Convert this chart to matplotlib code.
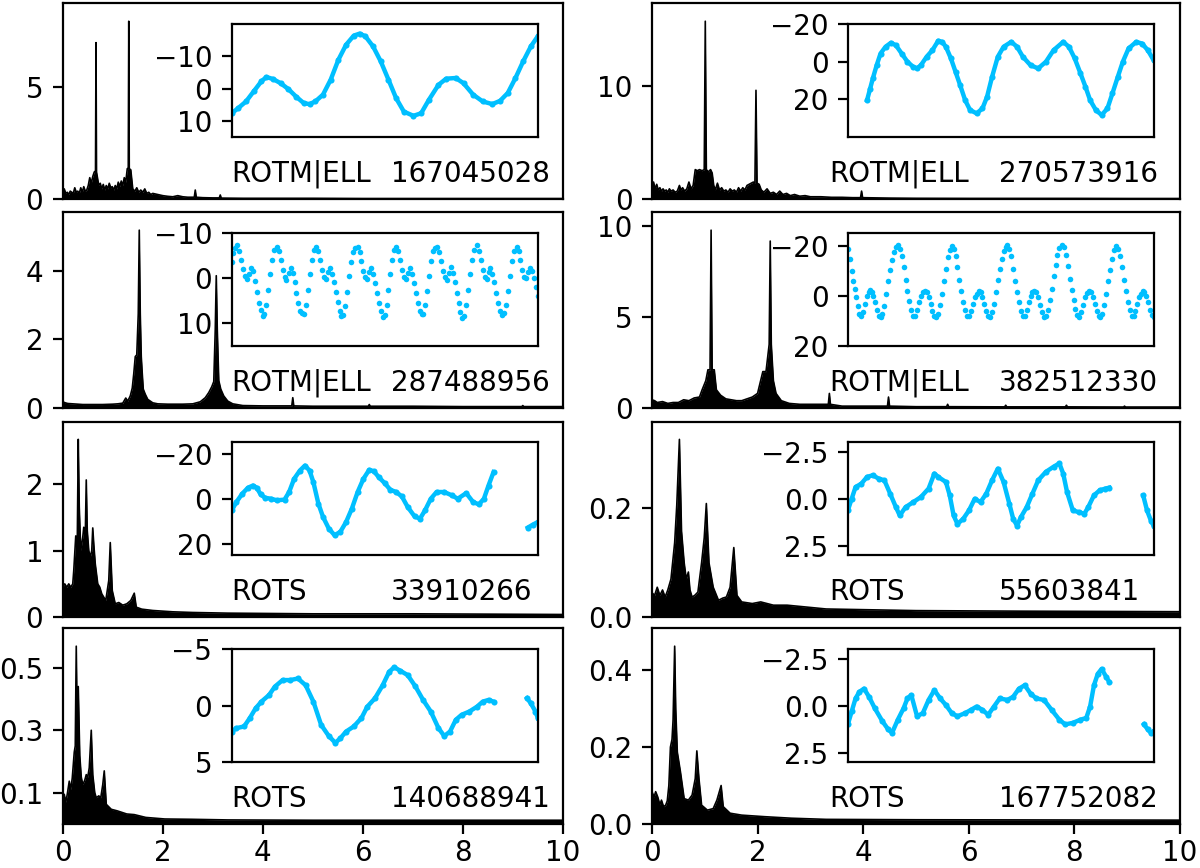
import matplotlib
matplotlib.use("Agg")
import matplotlib.pyplot as plt
import numpy as np

# panel labels: variability class and TIC number
classes = ["ROTM|ELL", "ROTM|ELL", "ROTM|ELL", "ROTM|ELL", "ROTS", "ROTS", "ROTS", "ROTS"]
tic_ids = ["167045028", "270573916", "287488956", "382512330",
           "33910266", "55603841", "140688941", "167752082"]

# periodograms: (frequency [1/d], power)
pg1 = [(0.00, 0.30), (0.03, 0.45), (0.06, 0.25), (0.09, 0.30), (0.12, 0.20), (0.15, 0.35), (0.18, 0.30),
       (0.21, 0.25), (0.24, 0.50), (0.27, 0.30), (0.30, 0.35), (0.33, 0.25), (0.36, 0.50), (0.39, 0.30),
       (0.42, 0.55), (0.45, 0.35), (0.48, 0.40), (0.51, 0.60), (0.54, 0.95), (0.57, 0.70), (0.60, 1.00),
       (0.63, 1.20), (0.655, 1.25), (0.665, 6.95), (0.675, 1.20), (0.69, 1.00), (0.72, 0.60), (0.75, 0.70),
       (0.78, 0.45), (0.81, 0.65), (0.84, 0.40), (0.87, 0.60), (0.90, 0.45), (0.93, 0.70), (0.96, 0.50),
       (0.99, 0.55), (1.02, 0.40), (1.05, 0.60), (1.08, 0.45), (1.11, 0.75), (1.14, 0.55), (1.17, 0.80),
       (1.20, 0.60), (1.23, 0.95), (1.26, 0.75), (1.29, 1.35), (1.31, 1.35), (1.32, 7.90), (1.33, 1.35),
       (1.36, 1.30), (1.40, 0.45), (1.44, 0.35), (1.48, 0.50), (1.52, 0.30), (1.56, 0.40), (1.60, 0.30),
       (1.64, 0.45), (1.68, 0.25), (1.72, 0.30), (1.76, 0.20), (1.80, 0.25), (1.90, 0.20), (2.00, 0.15),
       (2.10, 0.12), (2.20, 0.10), (2.30, 0.15), (2.40, 0.10), (2.50, 0.08), (2.63, 0.08), (2.65, 0.40),
       (2.67, 0.08), (2.80, 0.06), (3.00, 0.05), (3.13, 0.05), (3.15, 0.18), (3.17, 0.04), (3.60, 0.03),
       (4.0, 0.03), (5.0, 0.03), (6.0, 0.02), (7.0, 0.02), (8.0, 0.02), (9.0, 0.02), (10.0, 0.02)]
pg2 = [(0.00, 1.2), (0.03, 1.5), (0.06, 0.9), (0.09, 1.3), (0.12, 0.8), (0.15, 1.0), (0.18, 0.7), (0.21, 0.9),
       (0.24, 0.7), (0.27, 0.8), (0.30, 0.6), (0.33, 0.9), (0.36, 0.7), (0.40, 0.8), (0.44, 0.6), (0.48, 0.7),
       (0.52, 1.2), (0.55, 0.8), (0.58, 1.0), (0.62, 0.7), (0.66, 0.9), (0.70, 1.5), (0.74, 0.9), (0.78, 1.2),
       (0.82, 2.6), (0.86, 2.5), (0.90, 2.6), (0.95, 2.5), (0.99, 2.6), (1.01, 15.7), (1.03, 2.6), (1.07, 2.4),
       (1.11, 2.6), (1.14, 2.3), (1.17, 1.2), (1.20, 0.8), (1.24, 1.4), (1.28, 0.8), (1.32, 1.0), (1.36, 0.7),
       (1.40, 0.8), (1.44, 0.6), (1.48, 0.9), (1.52, 0.7), (1.56, 0.8), (1.60, 0.6), (1.64, 1.0), (1.68, 0.7),
       (1.72, 1.0), (1.76, 0.8), (1.80, 1.2), (1.84, 1.3), (1.88, 1.4), (1.92, 1.5), (1.95, 1.4), (1.97, 9.6),
       (1.99, 1.4), (2.03, 1.3), (2.07, 0.8), (2.12, 0.6), (2.18, 0.9), (2.24, 0.5), (2.30, 0.6), (2.36, 0.4),
       (2.42, 0.7), (2.48, 0.4), (2.55, 0.5), (2.62, 0.3), (2.70, 0.4), (2.80, 0.25), (2.90, 0.3), (3.00, 0.2),
       (3.20, 0.2), (3.40, 0.15), (3.60, 0.15), (3.80, 0.12), (3.95, 0.12), (3.97, 0.7), (3.99, 0.12),
       (4.5, 0.08), (5.0, 0.06), (6.0, 0.05), (7.0, 0.05), (8.0, 0.05), (9.0, 0.04), (10.0, 0.04)]
pg3 = [(0.00, 0.18), (0.05, 0.15), (0.10, 0.13), (0.20, 0.12), (0.30, 0.11), (0.40, 0.10), (0.60, 0.10),
       (0.80, 0.10), (1.00, 0.11), (1.10, 0.12), (1.20, 0.14), (1.26, 0.29), (1.30, 0.20), (1.35, 0.35),
       (1.39, 0.58), (1.42, 1.00), (1.45, 1.50), (1.48, 1.55), (1.51, 2.75), (1.53, 5.19), (1.55, 2.75),
       (1.57, 1.50), (1.59, 1.00), (1.61, 0.55), (1.65, 0.40), (1.70, 0.25), (1.80, 0.15), (1.90, 0.12),
       (2.10, 0.11), (2.40, 0.11), (2.60, 0.12), (2.75, 0.18), (2.85, 0.30), (2.92, 0.45), (2.98, 0.62),
       (3.02, 0.77), (3.05, 2.30), (3.07, 3.86), (3.09, 2.30), (3.12, 0.80), (3.16, 0.55), (3.22, 0.35),
       (3.30, 0.20), (3.40, 0.12), (3.60, 0.07), (4.00, 0.06), (4.58, 0.06), (4.60, 0.30), (4.62, 0.06),
       (5.00, 0.05), (6.11, 0.05), (6.13, 0.10), (6.15, 0.05), (7.00, 0.05), (8.00, 0.04), (9.18, 0.04),
       (9.20, 0.07), (9.22, 0.04), (10.0, 0.04)]
pg4 = [(0.00, 0.45), (0.05, 0.40), (0.10, 0.30), (0.20, 0.35), (0.30, 0.25), (0.40, 0.30), (0.50, 0.30),
       (0.60, 0.45), (0.70, 0.40), (0.80, 0.55), (0.90, 0.60), (0.95, 1.00), (1.02, 1.50), (1.06, 2.10),
       (1.10, 2.10), (1.12, 9.78), (1.14, 2.10), (1.18, 2.10), (1.22, 1.00), (1.30, 0.70), (1.40, 0.50),
       (1.50, 0.45), (1.60, 0.40), (1.70, 0.40), (1.80, 0.50), (1.90, 0.60), (2.00, 0.80), (2.10, 2.00),
       (2.16, 2.00), (2.22, 3.50), (2.24, 9.18), (2.26, 3.50), (2.30, 1.50), (2.35, 0.80), (2.45, 0.40),
       (2.60, 0.25), (2.80, 0.20), (3.00, 0.20), (3.34, 0.20), (3.36, 0.80), (3.38, 0.20), (3.60, 0.10),
       (4.00, 0.10), (4.46, 0.10), (4.48, 0.60), (4.50, 0.10), (5.00, 0.07), (5.58, 0.07), (5.60, 0.20),
       (5.62, 0.07), (6.68, 0.06), (6.70, 0.15), (6.72, 0.06), (7.83, 0.06), (7.85, 0.15), (7.87, 0.06),
       (8.93, 0.05), (8.95, 0.10), (8.97, 0.05), (10.0, 0.05)]
pg5 = [(0.00, 0.45), (0.04, 0.50), (0.08, 0.45), (0.12, 0.50), (0.16, 0.45), (0.20, 0.50), (0.22, 0.70),
       (0.26, 1.22), (0.29, 1.10), (0.31, 2.67), (0.33, 1.65), (0.36, 1.00), (0.40, 1.20), (0.42, 1.35),
       (0.45, 1.20), (0.47, 2.06), (0.49, 1.30), (0.52, 1.00), (0.55, 0.90), (0.58, 1.00), (0.60, 1.34),
       (0.62, 1.10), (0.65, 0.80), (0.70, 0.50), (0.74, 0.45), (0.78, 0.35), (0.82, 0.30), (0.86, 0.25),
       (0.92, 0.55), (0.95, 1.12), (0.99, 0.40), (1.05, 0.20), (1.12, 0.22), (1.20, 0.18), (1.28, 0.20),
       (1.36, 0.25), (1.43, 0.36), (1.47, 0.15), (1.58, 0.12), (1.80, 0.10), (2.20, 0.08), (2.60, 0.07),
       (3.30, 0.06), (5.00, 0.05), (7.00, 0.05), (10.0, 0.04)]
pg6 = [(0.00, 0.045), (0.05, 0.040), (0.10, 0.055), (0.15, 0.040), (0.20, 0.050), (0.25, 0.037),
       (0.30, 0.050), (0.36, 0.070), (0.43, 0.137), (0.47, 0.206), (0.52, 0.327), (0.56, 0.158),
       (0.61, 0.100), (0.65, 0.070), (0.69, 0.083), (0.72, 0.050), (0.76, 0.037), (0.81, 0.040),
       (0.87, 0.046), (0.94, 0.100), (0.99, 0.146), (1.03, 0.209), (1.08, 0.100), (1.16, 0.055),
       (1.26, 0.031), (1.34, 0.035), (1.41, 0.037), (1.48, 0.055), (1.55, 0.128), (1.61, 0.040),
       (1.70, 0.028), (1.90, 0.025), (2.06, 0.028), (2.30, 0.022), (2.56, 0.022), (3.30, 0.015),
       (5.00, 0.012), (7.00, 0.011), (10.0, 0.010)]
pg7 = [(0.00, 0.08), (0.03, 0.095), (0.06, 0.07), (0.09, 0.095), (0.13, 0.137), (0.16, 0.11), (0.19, 0.147),
       (0.23, 0.23), (0.25, 0.25), (0.27, 0.569), (0.29, 0.305), (0.31, 0.44), (0.34, 0.22), (0.37, 0.15),
       (0.40, 0.126), (0.44, 0.14), (0.47, 0.158), (0.50, 0.15), (0.53, 0.18), (0.57, 0.30), (0.60, 0.158),
       (0.64, 0.10), (0.67, 0.084), (0.72, 0.09), (0.76, 0.084), (0.80, 0.126), (0.83, 0.17), (0.87, 0.063),
       (0.97, 0.047), (1.09, 0.042), (1.28, 0.032), (1.43, 0.030), (1.66, 0.021), (2.04, 0.016),
       (2.58, 0.015), (3.30, 0.013), (5.00, 0.012), (10.0, 0.012)]
pg8 = [(0.00, 0.084), (0.04, 0.070), (0.07, 0.084), (0.11, 0.070), (0.15, 0.050), (0.18, 0.062),
       (0.22, 0.045), (0.26, 0.049), (0.29, 0.060), (0.32, 0.100), (0.35, 0.200), (0.38, 0.220),
       (0.40, 0.270), (0.43, 0.462), (0.45, 0.300), (0.48, 0.187), (0.54, 0.135), (0.61, 0.066),
       (0.69, 0.062), (0.76, 0.075), (0.82, 0.118), (0.85, 0.190), (0.89, 0.118), (0.94, 0.049),
       (1.05, 0.036), (1.16, 0.040), (1.23, 0.062), (1.31, 0.100), (1.35, 0.045), (1.48, 0.028),
       (1.70, 0.023), (2.13, 0.019), (2.64, 0.015), (3.30, 0.012), (5.00, 0.011), (10.0, 0.010)]

# light curves: (hours since first cadence, flux [ppt])
lc1 = [(0, 7.5), (17, 5.9), (37, 3.9), (57, 0.8), (77, -2.3), (90, -3.6), (107, -3.0), (127, -1.7), (147, 0.1),
       (167, 2.4), (187, 4.4), (202, 4.7), (217, 3.9), (237, 1.8), (257, -2.8), (277, -8.9), (297, -13.5),
       (317, -16.3), (332, -16.9), (347, -16.1), (367, -13.0), (387, -8.4), (407, -2.8), (427, 2.9), (447, 7.0),
       (472, 8.3), (492, 7.5), (512, 3.4), (537, -1.2), (557, -3.1), (582, -3.3), (602, -1.7), (627, 1.8),
       (652, 3.9), (677, 4.7), (697, 3.7), (717, 1.3), (737, -3.3), (757, -8.4), (777, -13.0), (795, -16.1)]
lc2 = [(50, 20.4), (58, 14.2), (65, 8.8), (75, 1.8), (85, -4.4), (98, -8.0), (112, -10.1), (125, -8.8),
       (140, -4.4), (155, 0.0), (170, 2.7), (180, 3.5), (190, 1.8), (205, -2.7), (220, -6.2), (235, -11.2),
       (245, -10.6), (255, -8.0), (268, -1.8), (280, 5.3), (292, 12.4), (305, 20.4), (318, 25.7), (335, 27.4),
       (350, 24.8), (362, 18.6), (375, 8.0), (390, -2.7), (405, -8.0), (425, -10.6), (440, -8.0), (455, -2.7),
       (475, 1.8), (495, 3.5), (515, 0.0), (535, -6.2), (560, -10.6), (575, -8.0), (590, -1.8), (605, 6.2),
       (618, 13.3), (630, 20.4), (645, 25.7), (660, 28.3), (675, 24.8), (688, 16.8), (702, 8.0), (715, 0.0),
       (730, -7.1), (750, -10.6), (765, -9.7), (780, -6.2), (795, -0.9)]
lc3 = [(0, -3.5), (4, -5.5), (9, -6.8), (14, -7.3), (19, -6.0), (24, -4.0), (29, -2.0), (34, -0.5), (39, 0.2),
       (45, -1.0), (50, -2.3), (55, -1.5), (60, 0.5), (65, 3.0), (70, 5.5), (75, 7.0), (80, 8.3), (85, 8.0),
       (90, 6.0), (95, 2.5), (100, -1.0), (105, -4.0), (110, -6.2),
       (117, -7.0), (122, -6.0), (127, -4.0), (132, -1.8), (137, -0.3), (142, 0.3), (148, -1.2), (153, -2.3),
       (158, -1.2), (163, 0.8), (168, 3.2), (173, 5.5), (178, 7.2), (183, 7.8), (188, 8.0), (193, 6.0),
       (198, 2.5), (203, -1.0), (208, -4.0), (213, -6.2),
       (219, -6.9), (224, -6.0), (229, -4.0), (234, -1.8), (239, -0.3), (244, 0.2), (250, -1.3), (255, -2.2),
       (260, -1.0), (265, 0.8), (270, 3.0), (275, 5.2), (280, 7.2), (285, 8.3), (290, 8.2), (295, 6.2),
       (300, 3.0), (305, -0.5), (310, -3.5), (315, -5.8), (321, -6.8),
       (327, -7.0), (332, -5.8), (337, -3.8), (342, -1.5), (347, -0.2), (352, 0.2), (357, -1.3), (362, -2.2),
       (367, -1.0), (372, 1.0), (377, 3.3), (382, 5.5), (387, 7.3), (392, 8.5), (397, 8.2), (402, 6.0),
       (407, 2.5), (412, -1.0), (417, -4.0), (422, -6.2),
       (427, -6.9), (432, -6.0), (437, -4.0), (442, -1.8), (447, -0.3), (452, 0.2), (458, -1.2), (463, -2.3),
       (468, -1.0), (473, 1.0), (478, 3.2), (483, 5.5), (488, 7.2), (493, 8.0), (498, 8.0), (503, 6.0),
       (508, 2.8), (513, -0.5), (518, -3.8), (523, -6.0), (528, -6.8),
       (534, -7.0), (539, -5.8), (544, -3.8), (549, -1.6), (554, -0.2), (559, 0.3), (564, -1.2), (569, -2.4),
       (574, -1.2), (579, 0.8), (584, 3.2), (589, 5.5), (594, 7.5), (599, 8.8), (604, 8.3), (609, 6.0),
       (614, 2.5), (619, -1.0), (624, -4.0), (629, -6.2),
       (637, -7.3), (642, -6.0), (647, -4.0), (652, -1.8), (657, -0.3), (662, 0.2), (667, -1.3), (672, -2.3),
       (677, -1.0), (682, 0.8), (687, 3.2), (692, 5.5), (697, 7.3), (702, 8.2), (707, 7.8), (712, 6.0),
       (717, 2.8), (722, -0.5), (727, -3.8), (732, -6.0),
       (740, -7.0), (745, -6.0), (750, -4.0), (755, -1.8), (760, -0.3), (765, 0.0), (770, -1.3), (775, -2.2),
       (780, -1.5), (785, 0.0), (790, 2.0), (795, 4.0)]
lc4 = [(0, -19.0), (5, -15.0), (10, -10.0), (14, -6.0), (18, -3.0), (22, 0.5), (26, 4.0), (30, 7.0), (35, 8.0),
       (40, 6.5), (45, 3.0), (50, 0.0), (54, -1.5), (58, -2.5), (62, -1.8), (66, 0.0), (70, 2.5), (75, 5.5),
       (80, 7.8), (85, 8.2), (90, 7.0), (95, 4.0), (100, -1.0), (105, -6.0), (110, -10.5), (115, -14.5),
       (120, -17.5), (125, -19.5), (130, -20.3), (135, -19.0), (140, -16.0), (145, -11.5), (150, -6.5),
       (155, -2.0), (160, 2.0), (165, 5.5), (170, 7.8), (175, 8.0), (180, 5.5), (185, 2.5), (190, 0.0),
       (195, -1.5), (200, -2.2), (205, -1.5), (210, 0.5), (215, 3.0), (220, 6.0), (225, 8.0), (230, 8.5),
       (235, 7.0), (240, 3.5), (245, -1.0), (250, -6.0), (255, -11.0), (260, -15.5), (265, -18.5),
       (270, -20.0), (275, -19.0), (280, -16.0), (285, -11.5), (290, -6.5), (295, -2.0), (300, 2.5),
       (305, 5.5), (310, 7.8), (315, 8.0), (320, 6.0), (325, 3.0), (330, 0.5), (335, -1.0), (340, -2.2),
       (345, -1.5), (350, 0.5), (355, 3.0), (360, 6.0), (365, 8.0), (370, 8.2), (375, 6.5), (380, 3.0),
       (385, -1.5), (390, -6.5), (395, -11.0), (400, -15.0), (405, -18.0), (410, -19.8), (415, -20.3),
       (420, -19.0), (425, -16.0), (430, -11.0), (435, -6.0), (440, -1.5), (445, 2.5), (450, 6.0), (455, 8.0),
       (460, 8.0), (465, 5.5), (470, 2.5), (475, 0.0), (480, -1.5), (485, -2.0), (490, -1.5), (495, 0.5),
       (500, 3.5), (505, 6.5), (510, 8.5), (515, 8.0), (520, 5.5), (525, 1.5), (530, -3.0), (535, -8.0),
       (540, -12.5), (545, -16.5), (550, -19.3), (557, -20.5), (562, -19.5), (567, -16.5), (572, -12.0),
       (577, -7.0), (582, -2.5), (587, 1.5), (592, 5.0), (597, 7.5), (602, 8.2), (607, 6.5), (612, 3.5),
       (617, 0.5), (622, -1.2), (627, -2.2), (632, -1.5), (637, 0.5), (642, 3.0), (647, 6.0), (652, 8.0),
       (657, 8.5), (662, 7.0), (667, 3.5), (672, -1.0), (677, -6.0), (682, -10.5), (687, -15.0),
       (692, -18.5), (698, -20.0), (703, -19.0), (708, -16.0), (713, -11.5), (718, -6.5), (723, -2.0),
       (728, 2.5), (733, 5.5), (738, 7.8), (743, 8.0), (748, 6.0), (753, 3.0), (758, 0.5), (763, -1.0),
       (767, -2.0), (771, -1.5), (775, 0.0), (780, 2.5), (785, 5.5), (790, 7.5), (795, 8.5)]
lc5 = [(0, 5.2), (12, 1.5), (27, -2.2), (42, -4.9), (55, -5.9), (65, -4.9), (75, -1.9), (87, -0.4), (102, 0.0),
       (117, 0.7), (137, 0.4), (149, -3.0), (162, -8.9), (177, -12.6), (190, -14.8), (202, -12.6), (212, -7.4),
       (225, 2.2), (237, 8.1), (252, 13.3), (267, 16.3), (282, 14.8), (297, 10.4), (312, 4.4), (327, -3.0),
       (342, -8.9), (357, -12.9), (369, -12.3), (382, -9.6), (397, -7.0), (412, -4.0), (427, -3.0), (442, -1.0),
       (457, 3.7), (475, 7.9), (489, 8.9), (502, 5.2), (517, 0.0), (532, -3.0), (552, -3.0), (572, -1.5),
       (587, 0.0), (609, -2.5), (627, 1.5), (642, 2.5), (655, 0.0), (667, -5.9), (680, -11.9),
       (769, 12.9), (782, 11.6), (795, 10.4)]
lc6 = [(0, 0.62), (10, 0.0), (20, -0.62), (35, -0.8), (50, -1.16), (65, -1.25), (80, -1.07), (95, -0.98),
       (110, -0.27), (125, 0.45), (135, 0.89), (150, 0.45), (170, 0.18), (190, -0.09), (210, -0.54),
       (225, -1.34), (235, -1.16), (255, -0.89), (265, -0.18), (275, 0.89), (285, 1.34), (300, 1.07),
       (315, 0.62), (330, 0.0), (345, 0.18), (360, -0.27), (375, -0.98), (390, -1.6), (405, -0.89), (420, 0.27),
       (430, 1.07), (440, 1.43), (450, 0.98), (465, 0.45), (480, -0.27), (495, -0.98), (515, -1.43),
       (535, -1.7), (550, -1.88), (560, -1.34), (570, -0.36), (585, 0.62), (600, 0.71), (615, 0.8),
       (625, 0.45), (640, -0.18), (655, -0.45), (670, -0.54), (680, -0.59),
       (768, -0.18), (778, 0.62), (788, 1.16), (795, 1.43)]
lc7 = [(0, 2.3), (12, 2.0), (32, 1.85), (47, 1.1), (62, 0.24), (77, -0.35), (97, -0.94), (112, -1.68),
       (132, -2.26), (152, -2.26), (172, -2.4), (192, -1.8), (212, -0.35), (232, 1.7), (252, 2.7), (269, 3.3),
       (282, 2.9), (297, 2.3), (317, 1.85), (337, 1.1), (352, 0.1), (372, -0.65), (392, -1.8), (409, -3.0),
       (422, -3.4), (437, -3.1), (457, -2.7), (477, -1.7), (497, -0.5), (517, 0.53), (537, 2.0), (552, 2.7),
       (567, 2.3), (582, 1.26), (597, 0.82), (617, 0.53), (637, 0.1), (652, -0.35), (667, -0.5), (680, -0.35),
       (767, -0.65), (777, -0.2), (789, 0.53), (795, 1.1)]
lc8 = [(0, 1.0), (10, 0.31), (20, -0.38), (30, -0.73), (42, -0.9), (55, -0.47), (70, 0.14), (90, 0.84),
       (105, 1.27), (115, 1.45), (130, 0.75), (145, 0.14), (155, -0.38), (165, -0.56), (180, 0.57), (195, 0.4),
       (210, -0.3), (225, -0.82), (240, -0.38), (255, -0.03), (270, 0.4), (285, 0.57), (305, 0.4), (320, 0.23),
       (335, 0.05), (350, 0.23), (365, 0.49), (380, 0.05), (395, -0.38), (415, -0.3), (430, -0.47),
       (445, -0.9), (460, -1.08), (475, -0.64), (490, -0.38), (510, -0.3), (530, 0.23), (550, 0.75),
       (565, 1.0), (585, 0.92), (605, 0.75), (620, 0.66), (630, 0.05), (640, -1.08), (650, -1.69),
       (660, -1.95), (672, -1.52), (680, -1.25),
       (770, 1.0), (780, 1.27), (788, 1.45), (795, 1.36)]

periodograms = [pg1, pg2, pg3, pg4, pg5, pg6, pg7, pg8]
lightcurves = [lc1, lc2, lc3, lc4, lc5, lc6, lc7, lc8]

# axis ticks and inset flux ranges (inverted: faint at bottom)
pg_ticks = [[0, 5], [0, 10], [0, 2, 4], [0, 5, 10], [0, 1, 2], [0, 0.2], [0.1, 0.3, 0.5], [0, 0.2, 0.4]]
lc_ticks = [[-10, 0, 10], [-20, 0, 20], [-10, 0, 10], [-20, 0, 20], [-20, 0, 20],
            [-2.5, 0, 2.5], [-5, 0, 5], [-2.5, 0, 2.5]]
lc_lims = [(14.8, -19.8), (40, -20), (15, -10), (20, -25.2), (25.2, -25.2), (3, -3), (5, -5), (3, -3)]
dots_only = [False, False, True, True, False, False, False, False]

lc_color = "#00BFFF"

plt.rcParams["font.family"] = "DejaVu Sans"
fig = plt.figure(figsize=(6, 4.34), dpi=200)

col_pos = [(0.0523, 0.4167), (0.5433, 0.44)]
row_bottom = [0.7707, 0.530, 0.289, 0.0507]
row_h = 0.2253
inset_w_frac = {0: 0.612, 1: 0.579}

for k in range(8):
    row, col = k // 2, k % 2
    x0, w = col_pos[col]
    ax = fig.add_axes([x0, row_bottom[row], w, row_h])

    f, p = np.array(periodograms[k]).T
    ax.fill_between(f, 0, p, color="k", lw=0)
    ax.plot(f, p, color="k", lw=0.6)
    ax.set_xlim(0, 10)
    ax.set_ylim(0, 1.1 * p.max())
    ax.set_yticks(pg_ticks[k])
    ax.tick_params(labelsize=10)
    if row < 3:
        ax.tick_params(axis="x", bottom=False, labelbottom=False)
    else:
        ax.set_xticks([0, 2, 4, 6, 8, 10])
        ax.tick_params(axis="x", pad=2)

    ax.text(0.336, 0.088, classes[k], transform=ax.transAxes, fontsize=10, va="baseline", ha="left")
    ax.text(0.657, 0.088, tic_ids[k], transform=ax.transAxes, fontsize=10, va="baseline", ha="left")

    iw = inset_w_frac[col]
    ins = ax.inset_axes([0.95 - iw, 0.317, iw, 0.577])
    t, fl = np.array(lightcurves[k]).T
    if dots_only[k]:
        ins.plot(t, fl, "o", color=lc_color, ms=2.0, mew=0)
    else:
        # break the line at the data gap
        seg = np.split(np.arange(len(t)), np.where(np.diff(t) > 40)[0] + 1)
        for s in seg:
            ins.plot(t[s], fl[s], "-", color=lc_color, lw=1.6)
            ins.plot(t[s], fl[s], "o", color=lc_color, ms=2.2, mew=0)
    ins.set_xlim(0, 795)
    ins.set_ylim(*lc_lims[k])
    ins.set_yticks(lc_ticks[k])
    ins.tick_params(axis="x", bottom=False, labelbottom=False)
    ins.tick_params(axis="y", labelsize=10)

fig.savefig("out.png", dpi=200)
